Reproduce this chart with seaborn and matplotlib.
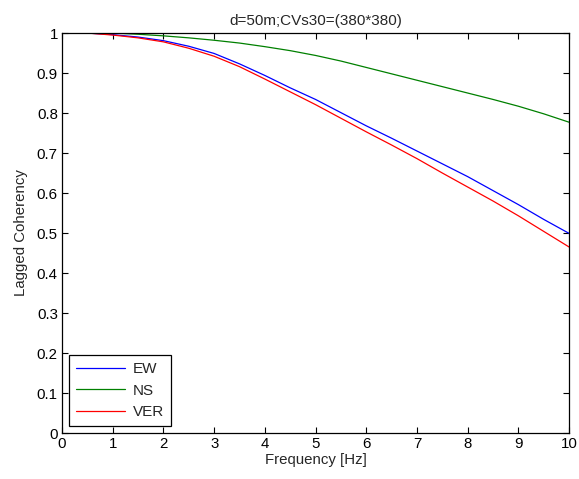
import numpy as np
import pandas as pd
import matplotlib
matplotlib.use("Agg")
import matplotlib.pyplot as plt
import seaborn as sns

# Frequency grid [Hz]
freq = [0.0, 0.5, 1.0, 1.5, 2.0, 2.5, 3.0, 3.5, 4.0, 4.5, 5.0,
        5.5, 6.0, 6.5, 7.0, 7.5, 8.0, 8.5, 9.0, 9.5, 10.0]

# Lagged coherency per component
ew = [1.000, 1.000, 0.996, 0.990, 0.981, 0.967, 0.949, 0.923, 0.894, 0.863, 0.834,
      0.801, 0.768, 0.737, 0.705, 0.673, 0.641, 0.606, 0.571, 0.534, 0.499]
ns = [1.000, 1.000, 1.000, 0.997, 0.993, 0.988, 0.982, 0.975, 0.966, 0.956, 0.944,
      0.930, 0.914, 0.898, 0.882, 0.866, 0.850, 0.834, 0.817, 0.798, 0.777]
ver = [1.000, 1.000, 0.995, 0.988, 0.978, 0.962, 0.942, 0.916, 0.885, 0.853, 0.821,
       0.787, 0.753, 0.720, 0.686, 0.650, 0.615, 0.580, 0.543, 0.504, 0.465]

components = ["EW", "NS", "VER"]
colors = ["#0000ff", "#008000", "#ff0000"]

x_ticks = [0, 1, 2, 3, 4, 5, 6, 7, 8, 9, 10]
y_ticks = [0, 0.1, 0.2, 0.3, 0.4, 0.5, 0.6, 0.7, 0.8, 0.9, 1]
y_tick_labels = ["0", "0.1", "0.2", "0.3", "0.4", "0.5", "0.6", "0.7", "0.8", "0.9", "1"]

df = pd.DataFrame({
    "Frequency": freq * 3,
    "Coherency": ew + ns + ver,
    "Component": [c for c in components for _ in freq],
})

sns.set_style("ticks")
plt.rcParams["font.family"] = ["Liberation Sans", "DejaVu Sans"]
plt.rcParams["font.size"] = 10.8

fig = plt.figure(figsize=(5.79, 4.79), dpi=100)
ax = fig.add_axes([0.107, 0.096, 0.876, 0.835])

sns.lineplot(data=df, x="Frequency", y="Coherency", hue="Component",
             hue_order=components, palette=colors, linewidth=0.9, ax=ax)

ax.set_xlim(0, 10)
ax.set_ylim(0, 1)
ax.set_xticks(x_ticks)
ax.set_xticklabels([str(t) for t in x_ticks])
ax.set_yticks(y_ticks)
ax.set_yticklabels(y_tick_labels)
ax.tick_params(direction="in", length=4, width=0.8, top=True, right=True,
               labelsize=10.8, colors="black", pad=3)
for s in ax.spines.values():
    s.set_visible(True)
    s.set_linewidth(0.9)
    s.set_color("black")

ax.set_xlabel("Frequency [Hz]", fontsize=10.8, labelpad=1)
ax.set_ylabel("Lagged Coherency", fontsize=10.8, labelpad=6)
ax.set_title("d=50m;CVs30=(380*380)", fontsize=11, pad=6)

leg = ax.legend(loc="lower left", bbox_to_anchor=(0.014, 0.0175), borderaxespad=0,
                fancybox=False, framealpha=1, edgecolor="black",
                handlelength=3.2, labelspacing=0.5, fontsize=11,
                borderpad=0.45, handletextpad=0.5)
leg.get_frame().set_linewidth(0.9)
for line in leg.get_lines():
    line.set_linewidth(0.9)

fig.savefig("out.png", dpi=100)
